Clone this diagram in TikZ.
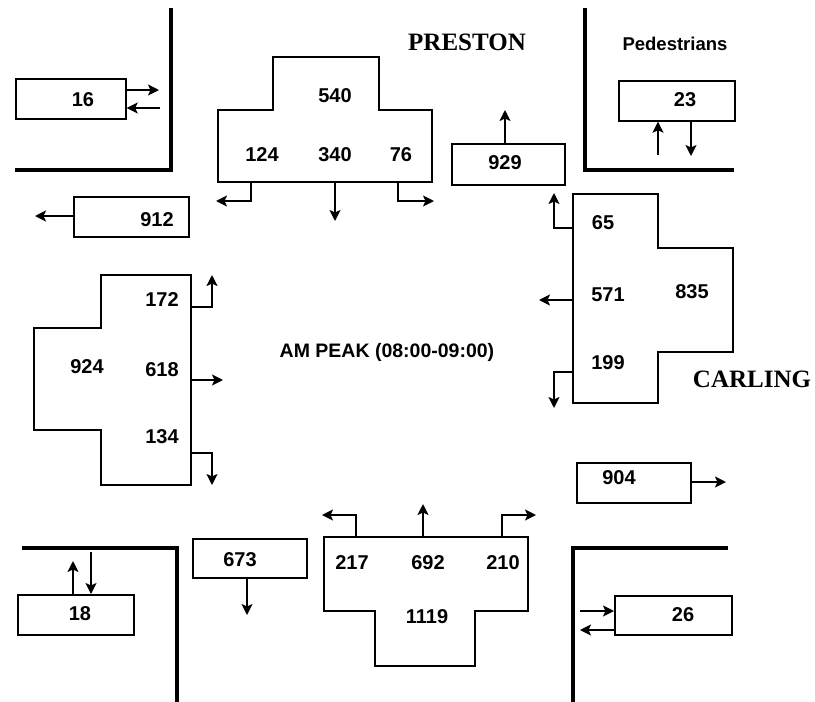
\documentclass[tikz,border=0pt]{standalone}
\usepackage{fontspec}
\setmainfont{Liberation Sans}
\newfontfamily\streetfont{Liberation Serif}
\usetikzlibrary{arrows.meta}
\begin{document}
\begin{tikzpicture}[x=1pt,y=-1pt,
  boxed/.style={draw,line width=1.7pt},
  rectbox/.style={draw,line width=1.7pt,inner sep=0pt,anchor=north west},
  wall/.style={line width=4pt},
  arr/.style={line width=1.7pt,-{Stealth[length=11pt,width=11pt,inset=2.5pt]}},
  num/.style={font=\fontsize{20}{20}\selectfont\bfseries,inner sep=0pt},
  street/.style={font=\fontsize{25}{25}\selectfont\streetfont\bfseries,inner sep=0pt},
  lab/.style={font=\fontsize{19.5}{19.5}\selectfont\bfseries,inner sep=0pt}]
\useasboundingbox (0,0) rectangle (815,702);

% walls (kerbs)
\draw[wall] (171,8) -- (171,170) -- (15,170);
\draw[wall] (585,8) -- (585,170) -- (734,170);
\draw[wall] (22,548) -- (177,548) -- (177,702);
\draw[wall] (573,702) -- (573,548) -- (728,548);

% labels
\node[street] (preston) at (467,42) {PRESTON};
\node[street] (carling) at (752,379) {CARLING};
\node[lab,font=\fontsize{18.5}{18.5}\selectfont\bfseries] (ped) at (675,44) {Pedestrians};
\node[lab] (peak) at (387,352) {AM PEAK (08:00-09:00)};

% rectangular boxes
\node[rectbox,minimum width=110pt,minimum height=40pt] (b16) at (15,78) {};
\node[num] (t16) at (83,100) {16};
\node[rectbox,minimum width=115pt,minimum height=40pt] (b912) at (73,196) {};
\node[num] (t912) at (157,220) {912};
\node[rectbox,minimum width=113pt,minimum height=41pt] (b929) at (451,143) {};
\node[num] (t929) at (505,163) {929};
\node[rectbox,minimum width=116pt,minimum height=40pt] (b23) at (618,80) {};
\node[num] (t23) at (685,100) {23};
\node[rectbox,minimum width=114pt,minimum height=40pt] (b904) at (576,462) {};
\node[num] (t904) at (619,478) {904};
\node[rectbox,minimum width=117pt,minimum height=39pt] (b26) at (614,595) {};
\node[num] (t26) at (683,615) {26};
\node[rectbox,minimum width=116pt,minimum height=40pt] (b18) at (17,594) {};
\node[num] (t18) at (80,614) {18};
\node[rectbox,minimum width=114pt,minimum height=39pt] (b673) at (192,538) {};
\node[num] (t673) at (240,560) {673};

% pedestrian / box arrows
\coordinate (p16a) at (159,90);
\coordinate (p16b) at (160,108);
\draw[arr] (b16.east |- p16a) -- (p16a);
\draw[arr] (p16b) -- (b16.east |- p16b);
\coordinate (p912) at (35,216);
\draw[arr] (b912.west |- p912) -- (p912);
\coordinate (p929) at (505,110);
\draw[arr] (b929.north -| p929) -- (p929);
\coordinate (p23a) at (658,155);
\coordinate (p23b) at (691,156);
\draw[arr] (p23a) -- (b23.south -| p23a);
\draw[arr] (b23.south -| p23b) -- (p23b);
\coordinate (p904) at (726,482);
\draw[arr] (b904.east |- p904) -- (p904);
\coordinate (p26a) at (580,611);
\coordinate (p26b) at (580,630);
\draw[arr] (p26a) -- (b26.west |- p26a);
\draw[arr] (b26.west |- p26b) -- (p26b);
\coordinate (p18a) at (73,561);
\coordinate (p18b) at (91,552);
\draw[arr] (b18.north -| p18a) -- (p18a);
\draw[arr] (p18b) -- (b18.north -| p18b);
\coordinate (p673) at (247,615);
\draw[arr] (b673.south -| p673) -- (p673);

% north approach (Preston southbound)
\draw[boxed] (273,57) -- (379,57) -- (379,110) -- (432,110) -- (432,182) -- (218,182) -- (218,110) -- (273,110) -- cycle;
\node[num] (n540) at (335,96) {540};
\node[num] (n124) at (262,155) {124};
\node[num] (n340) at (335,155) {340};
\node[num] (n76) at (401,155) {76};
\coordinate (nL) at (251,182);
\coordinate (nT) at (335,182);
\coordinate (nR) at (398,182);
\draw[arr] (nL) -- (251,201) -- (216,201);
\draw[arr] (nT) -- (335,221);
\draw[arr] (nR) -- (398,201) -- (434,201);

% west approach
\draw[boxed] (101,275) -- (191,275) -- (191,485) -- (101,485) -- (101,430) -- (34,430) -- (34,328) -- (101,328) -- cycle;
\node[num] (w172) at (162,300) {172};
\node[num] (w924) at (87,367) {924};
\node[num] (w618) at (162,370) {618};
\node[num] (w134) at (162,437) {134};
\coordinate (wL) at (191,307);
\coordinate (wT) at (191,380);
\coordinate (wR) at (191,453);
\draw[arr] (wL) -- (212,307) -- (212,275);
\draw[arr] (wT) -- (223,380);
\draw[arr] (wR) -- (212,453) -- (212,485);

% east approach
\draw[boxed] (573,194) -- (658,194) -- (658,248) -- (733,248) -- (733,352) -- (658,352) -- (658,403) -- (573,403) -- cycle;
\node[num] (e65) at (603,223) {65};
\node[num] (e571) at (608,295) {571};
\node[num] (e835) at (692,292) {835};
\node[num] (e199) at (608,363) {199};
\coordinate (eR) at (573,228);
\coordinate (eT) at (573,300);
\coordinate (eL) at (573,372);
\draw[arr] (eR) -- (554,228) -- (554,193);
\draw[arr] (eT) -- (539,300);
\draw[arr] (eL) -- (554,372) -- (554,408);

% south approach
\draw[boxed] (324,537) -- (528,537) -- (528,611) -- (475,611) -- (475,666) -- (375,666) -- (375,611) -- (324,611) -- cycle;
\node[num] (s217) at (352,563) {217};
\node[num] (s692) at (428,563) {692};
\node[num] (s210) at (503,563) {210};
\node[num] (s1119) at (427,617) {1119};
\coordinate (sL) at (356,537);
\coordinate (sT) at (423,537);
\coordinate (sR) at (502,537);
\draw[arr] (sL) -- (356,515) -- (322,515);
\draw[arr] (sT) -- (423,504);
\draw[arr] (sR) -- (502,515) -- (536,515);
\end{tikzpicture}
\end{document}
